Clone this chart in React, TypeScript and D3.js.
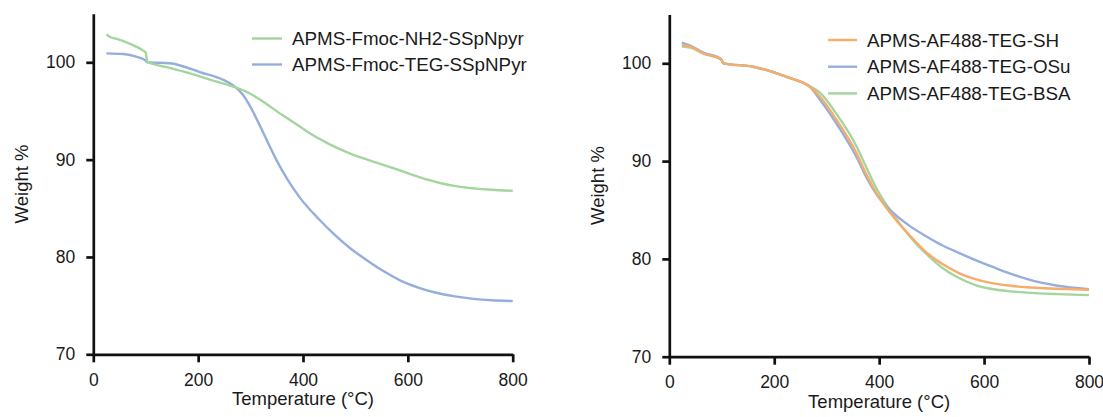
import React, { useEffect, useRef } from "react";
import * as d3 from "d3";

// left panel
const fmocNH2T = [25, 32, 45, 70, 95, 100, 103, 140, 184, 230, 267, 295, 324, 360, 394, 413, 450, 489, 540, 585, 625, 661, 700, 725, 760, 800];
const fmocNH2W = [102.85, 102.6, 102.4, 101.9, 101.2, 101.0, 100.05, 99.5, 98.87, 98.1, 97.5, 96.9, 95.95, 94.6, 93.4, 92.7, 91.6, 90.65, 89.7, 88.9, 88.15, 87.6, 87.2, 87.05, 86.9, 86.8];
const fmocTEGT = [25, 57, 80, 98, 103, 146, 203, 248, 270, 285, 299, 315, 331, 350, 370, 394, 430, 458, 490, 521, 555, 585, 620, 648, 690, 725, 760, 800];
const fmocTEGW = [100.92, 100.85, 100.6, 100.25, 100.0, 99.9, 99.0, 98.2, 97.5, 96.7, 95.5, 93.8, 92.0, 89.9, 88.0, 86.1, 83.9, 82.4, 80.9, 79.7, 78.5, 77.6, 76.85, 76.4, 75.95, 75.7, 75.55, 75.47];

// right panel
const afT = [24, 40, 65, 97, 100, 103, 160, 224, 268, 287, 319, 357, 376, 395, 427, 460, 491, 520, 554, 585, 618, 650, 681, 740, 800];
const afSHW = [101.9, 101.7, 101.0, 100.45, 100.3, 100.0, 99.65, 98.6, 97.6, 96.6, 94.2, 90.8, 88.6, 86.7, 84.3, 82.3, 80.6, 79.5, 78.5, 77.9, 77.5, 77.25, 77.1, 76.95, 76.85];
const afOSuW = [102.1, 101.8, 101.1, 100.5, 100.3, 100.0, 99.65, 98.6, 97.6, 96.3, 93.8, 90.4, 88.3, 86.6, 84.7, 83.3, 82.27, 81.4, 80.57, 79.85, 79.15, 78.5, 77.95, 77.25, 76.9];
const afBSAW = [101.7, 101.6, 101.0, 100.45, 100.3, 100.0, 99.65, 98.6, 97.65, 97.0, 94.8, 91.5, 89.3, 87.2, 84.5, 82.2, 80.45, 79.1, 78.0, 77.3, 76.9, 76.68, 76.55, 76.4, 76.3];

const xTicks = [0, 200, 400, 600, 800];
const yTicks = [70, 80, 90, 100];

const GREEN = "#a3d59c";
const BLUE = "#95aedb";
const ORANGE = "#f6ac6a";
const FONT = "'Liberation Sans', Arial, sans-serif";

type Series = { name: string; t: number[]; w: number[]; color: string };

const leftSeries: Series[] = [
  { name: "APMS-Fmoc-NH2-SSpNpyr", t: fmocNH2T, w: fmocNH2W, color: GREEN },
  { name: "APMS-Fmoc-TEG-SSpNPyr", t: fmocTEGT, w: fmocTEGW, color: BLUE },
];
const rightSeries: Series[] = [
  { name: "APMS-AF488-TEG-SH", t: afT, w: afSHW, color: ORANGE },
  { name: "APMS-AF488-TEG-OSu", t: afT, w: afOSuW, color: BLUE },
  { name: "APMS-AF488-TEG-BSA", t: afT, w: afBSAW, color: GREEN },
];

function drawPanel(svg: any, series: Series[], opt: any) {
  const x = d3.scaleLinear().domain([0, 800]).range([opt.x0, opt.x1]);
  const y = d3.scaleLinear().domain([70, 105]).range([opt.y0, opt.y0 - 35 * opt.unit]);
  const g = svg.append("g");

  // draw order: last legend entry first so first is on top
  const line = d3.line<[number, number]>()
    .x(d => x(d[0]))
    .y(d => y(d[1]))
    .curve(d3.curveMonotoneX);
  series.slice().reverse().forEach(s => {
    g.append("path")
      .datum(s.t.map((t, i) => [t, s.w[i]] as [number, number]))
      .attr("d", line)
      .attr("fill", "none")
      .attr("stroke", s.color)
      .attr("stroke-width", 2.4);
  });

  const yAxis = g.append("g")
    .attr("transform", `translate(${opt.x0},0)`)
    .call(d3.axisLeft(y).tickValues(yTicks).tickSize(7).tickSizeOuter(0).tickPadding(11));
  const xAxis = g.append("g")
    .attr("transform", `translate(0,${opt.y0})`)
    .call(d3.axisBottom(x).tickValues(xTicks).tickSize(8).tickSizeOuter(0).tickPadding(11));
  [yAxis, xAxis].forEach(a => {
    a.selectAll("path, line").attr("stroke", "#111").attr("stroke-width", 2.7);
    a.selectAll("text").attr("font-family", FONT).attr("font-size", 17.5).attr("fill", "#1a1a1a");
  });

  g.append("text")
    .attr("x", (opt.x0 + opt.x1) / 2)
    .attr("y", opt.y0 + 51)
    .attr("text-anchor", "middle")
    .attr("font-family", FONT)
    .attr("font-size", 18.5)
    .attr("fill", "#1a1a1a")
    .text("Temperature (°C)");
  g.append("text")
    .attr("transform", `translate(${opt.x0 - 65},${(opt.y0 + y(105)) / 2}) rotate(-90)`)
    .attr("text-anchor", "middle")
    .attr("font-family", FONT)
    .attr("font-size", 18.5)
    .attr("fill", "#1a1a1a")
    .text("Weight %");

  series.forEach((s, i) => {
    const ly = opt.legY + i * opt.legGap;
    g.append("line")
      .attr("x1", opt.legX).attr("x2", opt.legX + opt.legLen)
      .attr("y1", ly).attr("y2", ly)
      .attr("stroke", s.color).attr("stroke-width", 2.4);
    g.append("text")
      .attr("x", opt.legX + opt.legLen + 10)
      .attr("y", ly + 6.5)
      .attr("font-family", FONT)
      .attr("font-size", 18.8)
      .attr("fill", "#1a1a1a")
      .text(s.name);
  });
}

export default function App() {
  const ref = useRef<SVGSVGElement>(null);
  useEffect(() => {
    const svg = d3.select(ref.current);
    svg.selectAll("*").remove();
    drawPanel(svg, leftSeries, { x0: 93.3, x1: 512.7, y0: 354.3, unit: 9.733, legX: 252, legLen: 30, legY: 38.5, legGap: 26 });
    drawPanel(svg, rightSeries, { x0: 669.3, x1: 1089, y0: 356.7, unit: 9.78, legX: 828, legLen: 29, legY: 40, legGap: 26.7 });
  }, []);
  return (
    <svg ref={ref} width={1103} height={417} style={{ position: "absolute", left: 0, top: 0, background: "#fff" }} />
  );
}
